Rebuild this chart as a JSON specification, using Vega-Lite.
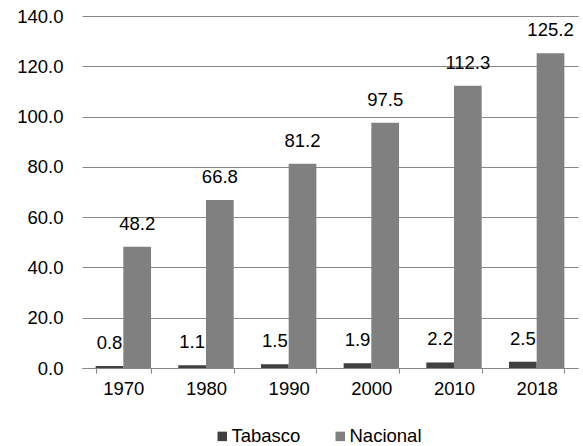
{
  "$schema": "https://vega.github.io/schema/vega-lite/v6.json",
  "width": 496,
  "height": 352,
  "autosize": {"type": "none"},
  "padding": {"left": 82, "top": 16, "right": 5, "bottom": 78},
  "background": "white",
  "config": {
    "font": "Liberation Sans",
    "view": {"stroke": null}
  },
  "data": {
    "values": [
      {"year": "1970", "serie": "Tabasco", "value": 0.8},
      {"year": "1970", "serie": "Nacional", "value": 48.2},
      {"year": "1980", "serie": "Tabasco", "value": 1.1},
      {"year": "1980", "serie": "Nacional", "value": 66.8},
      {"year": "1990", "serie": "Tabasco", "value": 1.5},
      {"year": "1990", "serie": "Nacional", "value": 81.2},
      {"year": "2000", "serie": "Tabasco", "value": 1.9},
      {"year": "2000", "serie": "Nacional", "value": 97.5},
      {"year": "2010", "serie": "Tabasco", "value": 2.2},
      {"year": "2010", "serie": "Nacional", "value": 112.3},
      {"year": "2018", "serie": "Tabasco", "value": 2.5},
      {"year": "2018", "serie": "Nacional", "value": 125.2}
    ]
  },
  "encoding": {
    "x": {
      "field": "year", "type": "nominal", "title": null,
      "scale": {"paddingInner": 0.33, "paddingOuter": 0.165},
      "axis": {
        "labelAngle": 0, "labelFont": "Liberation Sans", "labelFontSize": 18.5, "labelColor": "#000000",
        "domainColor": "#878787", "tickColor": "#878787", "tickBand": "extent", "tickSize": 5,
        "labelPadding": 6, "grid": false
      }
    },
    "xOffset": {"field": "serie", "type": "nominal", "sort": ["Tabasco", "Nacional"], "scale": {"paddingInner": 0, "paddingOuter": 0}},
    "y": {
      "field": "value", "type": "quantitative", "title": null,
      "scale": {"domain": [0, 140], "nice": false},
      "axis": {
        "values": [0, 20, 40, 60, 80, 100, 120, 140], "format": ".1f",
        "labelFont": "Liberation Sans", "labelFontSize": 18.5, "labelColor": "#000000",
        "domain": false, "ticks": false, "labelPadding": 19,
        "gridColor": "#878787", "gridWidth": 1
      }
    }
  },
  "layer": [
    {
      "mark": {"type": "bar"},
      "encoding": {
        "color": {
          "field": "serie", "type": "nominal", "sort": ["Tabasco", "Nacional"],
          "scale": {"domain": ["Tabasco", "Nacional"], "range": ["#404040", "#808080"]},
          "legend": {
            "orient": "none", "legendX": 131, "legendY": 411, "direction": "horizontal", "title": null,
            "symbolType": "square", "symbolSize": 90, "symbolStrokeWidth": 0,
            "labelFont": "Liberation Sans", "labelFontSize": 18.5, "labelColor": "#000000",
            "columnPadding": 30, "labelOffset": 0
          }
        }
      }
    },
    {
      "mark": {"type": "text", "baseline": "alphabetic", "dy": -17, "fontSize": 18.5, "font": "Liberation Sans", "color": "#000000"},
      "encoding": {"text": {"field": "value", "type": "quantitative", "format": ".1f"}}
    }
  ]
}
